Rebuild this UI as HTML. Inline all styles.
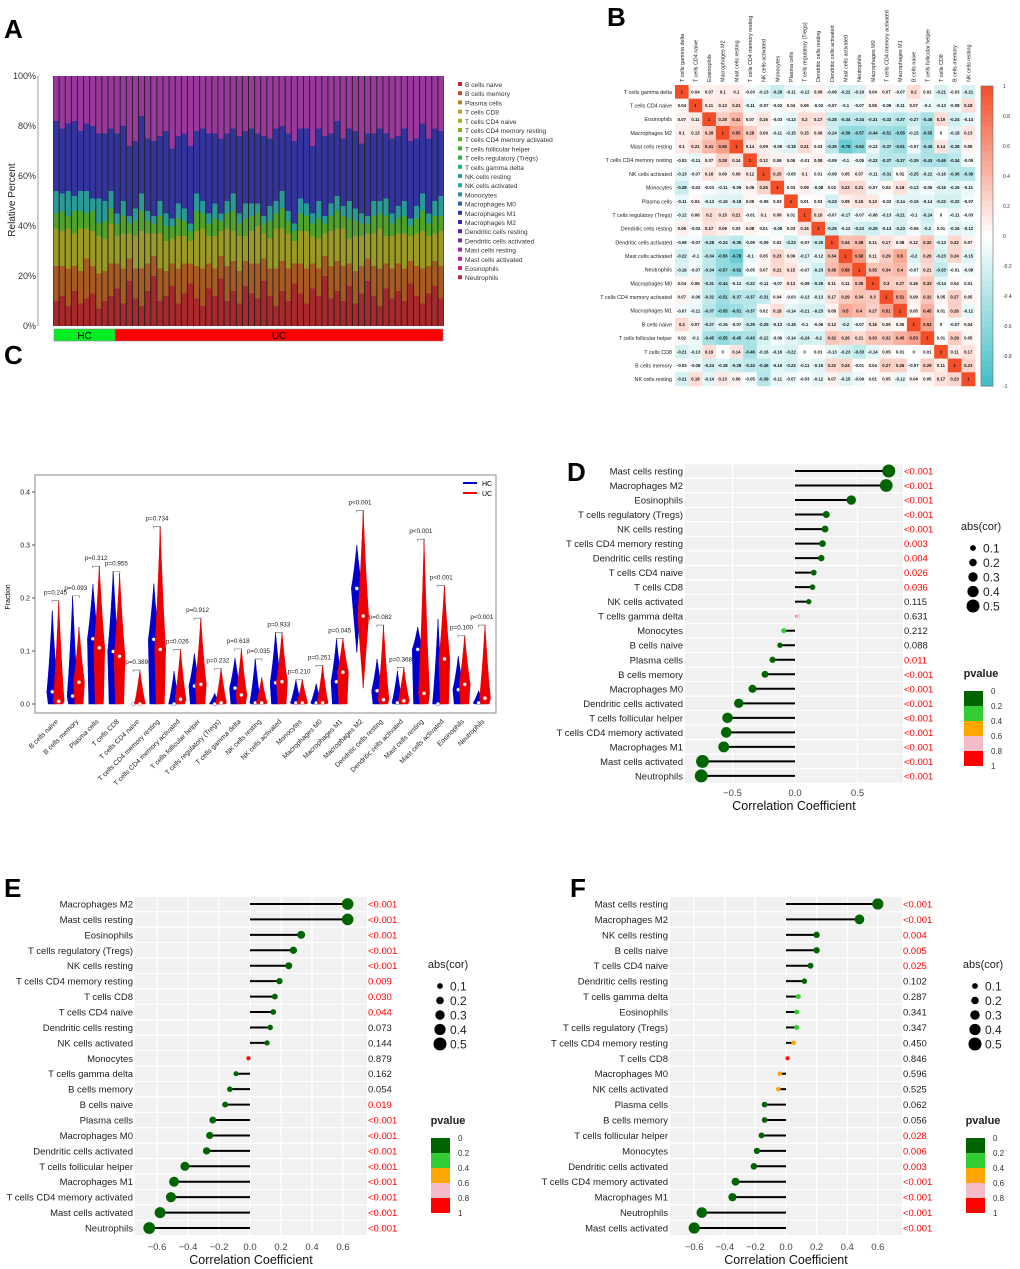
<!DOCTYPE html>
<html><head><meta charset="utf-8"><style>
html,body{margin:0;padding:0;background:#fff;}
svg{display:block;font-family:"Liberation Sans",Arial,sans-serif;}
</style></head><body>
<svg id="fig" width="1020" height="1269" viewBox="0 0 1020 1269" xmlns="http://www.w3.org/2000/svg">
<text x="4" y="38" font-size="26" font-weight="bold">A</text>
<text x="607" y="26" font-size="26" font-weight="bold">B</text>
<text x="4" y="364" font-size="26" font-weight="bold">C</text>
<text x="567" y="481" font-size="26" font-weight="bold">D</text>
<text x="4" y="897" font-size="26" font-weight="bold">E</text>
<text x="570" y="897" font-size="26" font-weight="bold">F</text>
<g id="pA"></g>
<g id="pB"></g>
<g id="pC"></g>
<g id="pD"></g>
<g id="pE"></g>
<g id="pF"></g>
</svg>
<script>
// ---------- Panel A data ----------
const aTypes=["B cells naive","B cells memory","Plasma cells","T cells CD8","T cells CD4 naive","T cells CD4 memory resting","T cells CD4 memory activated","T cells follicular helper","T cells regulatory (Tregs)","T cells gamma delta","NK cells resting","NK cells activated","Monocytes","Macrophages M0","Macrophages M1","Macrophages M2","Dendritic cells resting","Dendritic cells activated","Mast cells resting","Mast cells activated","Eosinophils","Neutrophils"];
const aGroups=["HC","UC"];
const aHCcount=10;
const aRed=[10,12,8,14,9,11,13,7,10,12,15,9,18,11,8,14,20,10,12,16,9,13,17,11,8,15,12,19,10,14,9,16,13,11,18,12,8,14,10,17,13,9,15,12,20,11,14,10,16,9,13,18,12,8,15,11,14,10,17,12,9,13,16,11];
const aBrown=[14,12,15,10,13,16,11,14,12,13,10,14,9,12,15,11,8,13,10,9,14,12,8,13,15,10,11,9,14,12,13,10,12,14,9,11,15,12,13,8,12,14,10,11,8,13,12,14,9,13,11,9,12,15,10,12,11,13,9,12,14,11,10,13];
const aOlive=[15,14,16,13,17,12,14,15,13,16,11,14,10,13,15,12,9,14,12,10,13,11,9,14,16,11,13,10,15,12,14,10,13,15,10,12,16,13,14,9,13,15,11,12,9,14,13,15,10,14,12,10,13,16,11,13,12,14,10,13,15,12,11,14];
const aGreen=[6,8,5,9,7,6,8,5,7,6,5,7,4,6,8,5,4,7,6,5,7,6,4,8,6,5,7,4,6,8,5,7,6,5,4,7,6,8,5,4,7,6,5,8,4,6,7,5,8,6,5,4,7,6,8,5,6,7,4,6,8,5,7,6];
const aTeal=[9,7,10,6,8,9,5,10,8,7,4,6,3,5,7,4,3,6,5,3,6,5,3,7,5,4,6,3,5,7,4,6,5,4,3,6,5,7,4,3,6,5,4,7,3,5,6,4,7,5,4,3,6,5,7,4,5,6,3,5,7,4,6,8];
const aBlue=[28,26,27,30,24,27,29,26,27,25,32,30,28,27,31,29,30,26,33,28,27,30,31,25,29,32,28,30,27,26,31,29,30,28,32,27,29,26,31,33,28,30,27,29,32,28,30,27,29,31,28,33,27,29,26,30,28,29,31,27,28,30,29,26];
// ---------- Panel B data ----------
const bLabels=["T cells gamma delta","T cells CD4 naive","Eosinophils","Macrophages M2","Mast cells resting","T cells CD4 memory resting","NK cells activated","Monocytes","Plasma cells","T cells regulatory (Tregs)","Dendritic cells resting","Dendritic cells activated","Mast cells activated","Neutrophils","Macrophages M0","T cells CD4 memory activated","Macrophages M1","B cells naive","T cells follicular helper","T cells CD8","B cells memory","NK cells resting"];
const bMatrix=[
[1,0.04,0.07,0.1,0.1,-0.03,-0.13,-0.28,-0.11,-0.12,0.08,-0.08,-0.22,-0.19,0.04,0.07,-0.07,0.2,0.02,-0.21,-0.03,-0.21],
[0.04,1,0.11,0.13,0.21,-0.11,-0.07,-0.02,0.04,0.06,-0.02,-0.07,-0.1,-0.07,0.06,-0.06,-0.11,0.07,-0.1,-0.13,-0.08,0.18],
[0.07,0.11,1,0.28,0.41,0.07,0.16,-0.03,-0.13,0.2,0.17,-0.28,-0.34,-0.34,-0.31,-0.32,-0.37,-0.27,-0.45,0.19,-0.24,-0.14],
[0.1,0.13,0.28,1,0.55,0.28,0.09,-0.11,-0.15,0.15,0.09,-0.24,-0.56,-0.57,-0.44,-0.51,-0.55,-0.15,-0.55,0,-0.18,0.13],
[0.1,0.21,0.41,0.55,1,0.14,0.09,-0.09,-0.18,0.21,0.03,-0.35,-0.78,-0.62,-0.12,-0.37,-0.51,-0.07,-0.45,0.14,-0.28,0.06],
[-0.03,-0.11,0.07,0.28,0.14,1,0.12,0.06,0.05,-0.01,0.08,-0.09,-0.1,-0.05,-0.22,-0.37,-0.37,-0.29,-0.43,-0.46,-0.34,-0.05],
[-0.13,-0.07,0.16,0.09,0.09,0.12,1,0.25,-0.05,0.1,0.01,-0.09,0.05,0.07,-0.11,-0.31,0.02,-0.25,-0.22,-0.16,-0.36,-0.39],
[-0.28,-0.02,-0.03,-0.11,-0.09,0.06,0.25,1,0.03,0.09,-0.08,0.02,0.23,0.21,-0.07,0.04,0.18,-0.13,-0.06,-0.16,-0.16,-0.11],
[-0.11,0.04,-0.13,-0.15,-0.18,0.05,-0.05,0.03,1,0.01,0.03,-0.23,0.09,0.15,0.13,-0.03,-0.14,-0.15,-0.14,-0.22,-0.22,-0.07],
[-0.12,0.06,0.2,0.15,0.21,-0.01,0.1,0.09,0.01,1,0.16,-0.07,-0.17,-0.07,-0.08,-0.13,-0.21,-0.1,-0.24,0,-0.11,-0.03],
[0.08,-0.02,0.17,0.09,0.03,0.08,0.01,-0.08,0.03,0.16,1,-0.25,-0.12,-0.23,-0.25,-0.13,-0.23,-0.06,-0.2,0.01,-0.15,-0.12],
[-0.08,-0.07,-0.28,-0.24,-0.35,-0.09,-0.09,0.02,-0.23,-0.07,-0.25,1,0.34,0.38,0.11,0.17,0.08,0.12,0.32,-0.13,0.22,0.07],
[-0.22,-0.1,-0.34,-0.56,-0.78,-0.1,0.05,0.23,0.09,-0.17,-0.12,0.34,1,0.58,0.11,0.29,0.5,-0.2,0.26,-0.23,0.24,-0.15],
[-0.19,-0.07,-0.34,-0.57,-0.62,-0.05,0.07,0.21,0.15,-0.07,-0.23,0.38,0.58,1,0.35,0.34,0.4,-0.07,0.21,-0.33,-0.01,-0.09],
[0.04,0.06,-0.31,-0.44,-0.12,-0.22,-0.11,-0.07,0.13,-0.08,-0.25,0.11,0.11,0.35,1,0.3,0.27,0.16,0.33,-0.14,0.04,0.01],
[0.07,-0.06,-0.32,-0.51,-0.37,-0.37,-0.31,0.04,-0.03,-0.13,-0.13,0.17,0.29,0.34,0.3,1,0.51,0.09,0.32,0.05,0.27,0.05],
[-0.07,-0.11,-0.37,-0.55,-0.51,-0.37,0.02,0.18,-0.14,-0.21,-0.23,0.08,0.5,0.4,0.27,0.51,1,0.05,0.45,0.01,0.26,-0.12],
[0.2,0.07,-0.27,-0.15,-0.07,-0.29,-0.25,-0.13,-0.15,-0.1,-0.06,0.12,-0.2,-0.07,0.16,0.09,0.05,1,0.53,0,-0.07,0.04],
[0.02,-0.1,-0.45,-0.55,-0.45,-0.43,-0.22,-0.06,-0.14,-0.24,-0.2,0.32,0.26,0.21,0.33,0.32,0.45,0.53,1,0.01,0.29,0.05],
[-0.21,-0.13,0.19,0,0.14,-0.46,-0.16,-0.16,-0.22,0,0.01,-0.13,-0.23,-0.33,-0.14,0.05,0.01,0,0.01,1,0.11,0.17],
[-0.03,-0.08,-0.24,-0.18,-0.28,-0.34,-0.36,-0.16,-0.22,-0.11,-0.15,0.22,0.24,-0.01,0.04,0.27,0.26,-0.07,0.29,0.11,1,0.23],
[-0.21,0.18,-0.14,0.13,0.06,-0.05,-0.39,-0.11,-0.07,-0.03,-0.12,0.07,-0.15,-0.09,0.01,0.05,-0.12,0.04,0.05,0.17,0.23,1]];
const bTicks=[1,0.8,0.6,0.4,0.2,0,-0.2,-0.4,-0.6,-0.8,-1];
// ---------- Panel C data ----------
const cCats=["B cells naive","B cells memory","Plasma cells","T cells CD8","T cells CD4 naive","T cells CD4 memory resting","T cells CD4 memory activated","T cells follicular helper","T cells regulatory (Tregs)","T cells gamma delta","NK cells resting","NK cells activated","Monocytes","Macrophages M0","Macrophages M1","Macrophages M2","Dendritic cells resting","Dendritic cells activated","Mast cells resting","Mast cells activated","Eosinophils","Neutrophils"];
const cHCmax=[0.176,0.203,0.226,0.25,0.0,0.227,0.062,0.095,0.02,0.087,0.085,0.135,0.045,0.038,0.122,0.30,0.085,0.062,0.145,0.160,0.090,0.025];
const cHCmin=[0,0,0,0,0,0,0,0,0,0,0,0,0,0,0,0.097,0,0,0,0,0,0];
const cHCmed=[0.023,0.015,0.123,0.099,0.0,0.122,0.0,0.034,0.0,0.030,0.002,0.040,0.002,0.002,0.042,0.218,0.025,0.002,0.103,0.0,0.027,0.002];
const cUCmax=[0.195,0.145,0.26,0.247,0.064,0.335,0.103,0.162,0.067,0.104,0.05,0.135,0.046,0.073,0.124,0.365,0.149,0.069,0.311,0.224,0.129,0.149];
const cUCmin=[0,0,0,0,0,0,0,0,0,0,0,0,0,0,0,0.03,0,0,0,0,0,0];
const cUCmed=[0.005,0.041,0.106,0.09,0.0,0.103,0.009,0.037,0.002,0.017,0.002,0.042,0.002,0.002,0.060,0.166,0.008,0.006,0.020,0.085,0.037,0.011];
const cBracket=[0.195,0.204,0.26,0.25,0.064,0.335,0.103,0.162,0.067,0.104,0.085,0.135,0.046,0.073,0.124,0.365,0.149,0.069,0.311,0.224,0.129,0.149];
const cP=["p=0.245","p=0.093","p=0.312","p=0.955","p=0.389","p=0.734","p=0.026","p=0.912","p=0.232","p=0.618","p=0.035","p=0.933","p=0.210","p=0.251","p=0.045","p<0.001","p=0.082","p=0.368","p<0.001","p<0.001","p=0.100","p<0.001"];
const cYTicks=[0,0.1,0.2,0.3,0.4];
// ---------- Panel D data ----------
const dLabels=["Mast cells resting","Macrophages M2","Eosinophils","T cells regulatory (Tregs)","NK cells resting","T cells CD4 memory resting","Dendritic cells resting","T cells CD4 naive","T cells CD8","NK cells activated","T cells gamma delta","Monocytes","B cells naive","Plasma cells","B cells memory","Macrophages M0","Dendritic cells activated","T cells follicular helper","T cells CD4 memory activated","Macrophages M1","Mast cells activated","Neutrophils"];
const dCor=[0.75,0.73,0.45,0.25,0.24,0.22,0.21,0.15,0.14,0.11,0.02,-0.09,-0.12,-0.18,-0.24,-0.34,-0.45,-0.54,-0.55,-0.57,-0.74,-0.75];
const dP=["<0.001","<0.001","<0.001","<0.001","<0.001","0.003","0.004","0.026","0.036","0.115","0.631","0.212","0.088","0.011","<0.001","<0.001","<0.001","<0.001","<0.001","<0.001","<0.001","<0.001"];
const dTicks=[-0.5,0,0.5];
// ---------- Panel E data ----------
const eLabels=["Macrophages M2","Mast cells resting","Eosinophils","T cells regulatory (Tregs)","NK cells resting","T cells CD4 memory resting","T cells CD8","T cells CD4 naive","Dendritic cells resting","NK cells activated","Monocytes","T cells gamma delta","B cells memory","B cells naive","Plasma cells","Macrophages M0","Dendritic cells activated","T cells follicular helper","Macrophages M1","T cells CD4 memory activated","Mast cells activated","Neutrophils"];
const eCor=[0.63,0.63,0.33,0.28,0.25,0.19,0.16,0.15,0.13,0.11,-0.01,-0.09,-0.13,-0.16,-0.24,-0.26,-0.28,-0.42,-0.49,-0.51,-0.58,-0.65];
const eP=["<0.001","<0.001","<0.001","<0.001","<0.001","0.009","0.030","0.044","0.073","0.144","0.879","0.162","0.054","0.019","<0.001","<0.001","<0.001","<0.001","<0.001","<0.001","<0.001","<0.001"];
const eTicks=[-0.6,-0.4,-0.2,0,0.2,0.4,0.6];
// ---------- Panel F data ----------
const fLabels=["Mast cells resting","Macrophages M2","NK cells resting","B cells naive","T cells CD4 naive","Dendritic cells resting","T cells gamma delta","Eosinophils","T cells regulatory (Tregs)","T cells CD4 memory resting","T cells CD8","Macrophages M0","NK cells activated","Plasma cells","B cells memory","T cells follicular helper","Monocytes","Dendritic cells activated","T cells CD4 memory activated","Macrophages M1","Neutrophils","Mast cells activated"];
const fCor=[0.60,0.48,0.20,0.20,0.16,0.12,0.08,0.07,0.07,0.05,0.01,-0.04,-0.05,-0.14,-0.14,-0.16,-0.19,-0.21,-0.33,-0.35,-0.55,-0.60];
const fP=["<0.001","<0.001","0.004","0.005","0.025","0.102","0.287","0.341","0.347","0.450","0.846","0.596","0.525","0.062","0.056","0.028","0.006","0.003","<0.001","<0.001","<0.001","<0.001"];
const fTicks=[-0.6,-0.4,-0.2,0,0.2,0.4,0.6];

const NS="http://www.w3.org/2000/svg";
function mk(tag,attrs,parent,txt){const e=document.createElementNS(NS,tag);for(const k in attrs)e.setAttribute(k,attrs[k]);if(txt!==undefined)e.textContent=txt;parent.appendChild(e);return e;}
let el;

// ================= Panel A =================
(function(){
const g=document.getElementById('pA');
const x0=53,x1=444,y0=76,y1=326,H=y1-y0;
const yA=v=>y1-v/100*H;
el=mk('rect',{x:x0,y:y0,width:x1-x0,height:H,fill:'#222'},g);


const n=aRed.length,bw=(x1-x0)/n;
const layerCols=['#a8282c','#a85a22','#9a9a24','#4fa32a','#2a9a98','#3434a0','#9a389e'];
const layers=[aRed,aBrown,aOlive,aGreen,aTeal,aBlue];
for(let i=0;i<n;i++){
  let cum=0;
  const tot=layers.reduce((s,L)=>s+L[i],0);
  for(let j=0;j<=layers.length;j++){
    const v=j<layers.length?layers[j][i]:Math.max(0,100-tot);
    el=mk('rect',{x:(x0+i*bw+0.5).toFixed(2),y:yA(cum+v).toFixed(2),width:(bw-1).toFixed(2),height:(v/100*H).toFixed(2),fill:layerCols[j]},g);
    
    
    cum+=v;
  }
}
el=mk('line',{x1:38,y1:y0,x2:38,y2:y1,stroke:'#999','stroke-width':1},g);


[0,20,40,60,80,100].forEach(t=>{
  el=mk('text',{x:36,y:yA(t)+3,'font-size':9,'text-anchor':'end',fill:'#333'},g,t+'%');
  
  
});
el=mk('text',{x:0,y:0,'font-size':10,'text-anchor':'middle',fill:'#222',transform:'translate(15,200) rotate(-90)'},g,'Relative Percent');


const hcx=x0+1+aHCcount*bw;
el=mk('rect',{x:54,y:329,width:hcx-54,height:12,fill:'#00ee22',stroke:'#888','stroke-width':0.6},g);


el=mk('rect',{x:hcx,y:329,width:443-hcx,height:12,fill:'#ff0000',stroke:'#888','stroke-width':0.6},g);


el=mk('text',{x:(54+hcx)/2,y:339,'font-size':10,'text-anchor':'middle'},g,aGroups[0]);


el=mk('text',{x:(hcx+443)/2,y:339,'font-size':10,'text-anchor':'middle'},g,aGroups[1]);


const legCols=['#c0282c','#c04a28','#c07a2a','#c0a02a','#a8b02a','#88b02a','#60b02a','#38b02a','#28b040','#28b070','#28a8a0','#28a0b8','#2888b0','#2860b0','#2838b0','#3828a8','#5828b0','#7828b0','#a028b0','#c028a0','#c02878','#c02848'];
aTypes.forEach((t,i)=>{
  const y=85+i*9.2;
  el=mk('rect',{x:458,y:y-3,width:4,height:4,fill:legCols[i]},g);
  
  
  el=mk('text',{x:465,y:y+2,'font-size':6.6,fill:'#333'},g,t);
  
  
});
})();

// ================= Panel B =================
(function(){
const g=document.getElementById('pB');
const x0=675,y0=85,cw=13.64,ch=13.68,n=bLabels.length;
function col(v){
  if(v>=0){const a=[255,255,255],b=[244,78,40];return 'rgb('+a.map((c,i)=>Math.round(c+(b[i]-c)*v)).join(',')+')';}
  const a=[255,255,255],b=[64,190,198],t=-v;return 'rgb('+a.map((c,i)=>Math.round(c+(b[i]-c)*t)).join(',')+')';
}
for(let r=0;r<n;r++){for(let c=0;c<n;c++){
  const v=bMatrix[r][c];
  el=mk('rect',{x:(x0+c*cw).toFixed(2),y:(y0+r*ch).toFixed(2),width:cw+0.3,height:ch+0.3,fill:col(v)},g);
  
  
  el=mk('text',{x:(x0+c*cw+cw/2).toFixed(2),y:(y0+r*ch+ch/2+1.6).toFixed(2),'font-size':4.3,'font-weight':'bold','text-anchor':'middle',fill:'#111'},g,String(v));
  
  
}}
bLabels.forEach((l,i)=>{
  el=mk('text',{x:672,y:y0+i*ch+ch/2+2,'font-size':5.4,'text-anchor':'end',fill:'#222'},g,l);
  
  
  const cx=x0+i*cw+cw/2+2;
  el=mk('text',{x:0,y:0,'font-size':5.4,fill:'#222',transform:'translate('+cx.toFixed(2)+',82) rotate(-90)'},g,l);
  
  
});
const gy0=86,gy1=386;
for(let i=0;i<60;i++){
  const v=1-i/30;
  el=mk('rect',{x:981,y:gy0+i*(gy1-gy0)/60,width:12,height:(gy1-gy0)/60+0.5,fill:col(Math.max(-1,v-1/60))},g);
  
  
}
el=mk('rect',{x:981,y:gy0,width:12,height:gy1-gy0,fill:'none',stroke:'#666','stroke-width':0.6},g);


bTicks.forEach(t=>{
  const y=gy0+(1-t)/2*(gy1-gy0);
  el=mk('text',{x:1003,y:y+2,'font-size':5,fill:'#333'},g,String(t));
  
  
});
})();

// ================= Panel C =================
(function(){
const g=document.getElementById('pC');
const bx0=35,bx1=496,by0=475,by1=713;
const yC=v=>704-v*530;
const gx=i=>52+3.5+i*20.3;
el=mk('rect',{x:bx0,y:by0,width:bx1-bx0,height:by1-by0,fill:'#fff',stroke:'#888','stroke-width':1},g);


cYTicks.forEach(t=>{
  el=mk('line',{x1:bx0-3,y1:yC(t),x2:bx0,y2:yC(t),stroke:'#555'},g);
  
  
  el=mk('text',{x:bx0-5,y:yC(t)+2.5,'font-size':7,'text-anchor':'end',fill:'#222'},g,t.toFixed(1));
  
  
});
el=mk('text',{x:0,y:0,'font-size':7,'text-anchor':'middle',transform:'translate(10,597) rotate(-90)'},g,'Fraction');


function violin(x,mn,med,mx,color,name){
  const w=5.5,w0=mn>0?0:w*0.75;
  el=mk('line',{x1:x,y1:yC(mn),x2:x,y2:yC(mx),stroke:'#000','stroke-width':0.8},g);
  
  
  if(mx>0.001){
    const d='M'+(x-w0)+','+yC(mn)+' L'+(x-w)+','+yC(med)+' Q'+(x-w*0.5)+','+yC(med+(mx-med)*0.35)+' '+x+','+yC(mx)+' Q'+(x+w*0.5)+','+yC(med+(mx-med)*0.35)+' '+(x+w)+','+yC(med)+' L'+(x+w0)+','+yC(mn)+' Z';
    el=mk('path',{d:d,fill:color,stroke:color,'stroke-width':0.5},g);
    
    
  }
  el=mk('circle',{cx:x,cy:yC(med),r:1.9,fill:'#fff',stroke:color,'stroke-width':0.3},g);
  
  
}
cCats.forEach((c,i)=>{
  const x=gx(i);
  violin(x-3.2,cHCmin[i],cHCmed[i],cHCmax[i],'#0000cc','violin-hc');
  violin(x+3.2,cUCmin[i],cUCmed[i],cUCmax[i],'#ee0000','violin-uc');
  const by=yC(cBracket[i]);
  el=mk('path',{d:'M'+(x-3.5)+','+(by+2)+' V'+by+' H'+(x+3.5)+' V'+(by+2),fill:'none',stroke:'#666','stroke-width':0.6},g);
  
  
  el=mk('text',{x:x,y:by-6,'font-size':6.3,'text-anchor':'middle',fill:'#222'},g,cP[i]);
  
  
  el=mk('text',{x:0,y:0,'font-size':6.8,'text-anchor':'end',fill:'#222',transform:'translate('+(x+3)+',722) rotate(-45)'},g,c);
  
  
});
el=mk('line',{x1:463,y1:483,x2:477,y2:483,stroke:'#0000cc','stroke-width':2},g);


el=mk('text',{x:482,y:486,'font-size':7},g,'HC');


el=mk('line',{x1:463,y1:493,x2:477,y2:493,stroke:'#ee0000','stroke-width':2},g);


el=mk('text',{x:482,y:496,'font-size':7},g,'UC');


})();

// ================= Lollipops =================
function pnum(s){return s.charAt(0)==='<'?0.0005:parseFloat(s);}
function pcol(p){return p<0.2?'#006400':p<0.4?'#32cd32':p<0.6?'#ffa500':p<0.8?'#f4bcc8':'#ff0000';}
function lollipop(gid,labels,cor,pv,ticks,cfg){
  const g=document.getElementById(gid);
  const n=labels.length;
  const xS=v=>cfg.zero+v*cfg.k;
  const yS=i=>cfg.yTop+i*cfg.step;
  el=mk('rect',{x:cfg.px0,y:yS(0)-cfg.step/2,width:cfg.px1-cfg.px0,height:n*cfg.step,fill:'#f1f1f1'},g);
  
  
  for(let i=0;i<=n;i++){
    el=mk('line',{x1:cfg.px0,y1:yS(i)-cfg.step/2,x2:cfg.px1,y2:yS(i)-cfg.step/2,stroke:'#fff','stroke-width':1.2},g);
    
    
  }
  ticks.forEach(t=>{
    el=mk('line',{x1:xS(t),y1:yS(0)-cfg.step/2,x2:xS(t),y2:yS(n-1)+cfg.step/2,stroke:'#fff','stroke-width':1.2},g);
    
    
    el=mk('text',{x:xS(t),y:cfg.tickY,'font-size':cfg.fs,'text-anchor':'middle',fill:'#444'},g,t===0?'0.0':(t<0?'\u2212':'')+Math.abs(t).toFixed(1));
    
    
  });
  el=mk('text',{x:(cfg.px0+cfg.px1)/2,y:cfg.titleY,'font-size':cfg.fs+3,'text-anchor':'middle',fill:'#111'},g,'Correlation Coefficient');
  
  
  labels.forEach((l,i)=>{
    const y=yS(i),p=pnum(pv[i]);
    el=mk('text',{x:cfg.px0-2,y:y+3.5,'font-size':cfg.fs,'text-anchor':'end',fill:'#222'},g,l);
    
    
    el=mk('line',{x1:xS(0),y1:y,x2:xS(cor[i]),y2:y,stroke:'#000','stroke-width':2},g);
    
    
    el=mk('circle',{cx:xS(cor[i]),cy:y,r:2+6*Math.abs(cor[i]),fill:pcol(p)},g);
    
    
    el=mk('text',{x:cfg.px1+1,y:y+3.5,'font-size':cfg.fs,fill:p<0.05?'#ff0000':'#222'},g,pv[i]);
    
    
  });
  el=mk('text',{x:cfg.lx+8,y:cfg.ly,'font-size':11,'text-anchor':'middle',fill:'#222'},g,'abs(cor)');
  
  
  [0.1,0.2,0.3,0.4,0.5].forEach((s,i)=>{
    const y=cfg.ly+18+i*14.5;
    el=mk('circle',{cx:cfg.lx,cy:y,r:2+9*s,fill:'#000'},g);
    
    
    el=mk('text',{x:cfg.lx+10,y:y+4.5,'font-size':12,fill:'#222'},g,String(s));
    
    
  });
  el=mk('text',{x:cfg.lx+8,y:cfg.py,'font-size':11,'font-weight':'bold','text-anchor':'middle',fill:'#222'},g,'pvalue');
  
  
  ['#006400','#32cd32','#ffa500','#f4bcc8','#ff0000'].forEach((c,i)=>{
    el=mk('rect',{x:cfg.lx-9,y:cfg.py+14+i*15,width:19,height:15,fill:c},g);
    
    
  });
  ['0','0.2','0.4','0.6','0.8','1'].forEach((t,i)=>{
    el=mk('text',{x:cfg.lx+18,y:cfg.py+17+i*15,'font-size':8,fill:'#333'},g,t);
    
    
  });
}
lollipop('pD',dLabels,dCor,dP,dTicks,{zero:795,k:125,yTop:471,step:14.52,px0:685,px1:903,fs:9.5,tickY:796,titleY:810,lx:973,ly:530,py:677});
lollipop('pE',eLabels,eCor,eP,eTicks,{zero:250,k:155,yTop:904,step:15.43,px0:135,px1:367,fs:9.5,tickY:1250,titleY:1264,lx:440,ly:968,py:1124});
lollipop('pF',fLabels,fCor,fP,fTicks,{zero:786,k:153,yTop:904,step:15.43,px0:670,px1:902,fs:9.5,tickY:1250,titleY:1264,lx:975,ly:968,py:1124});
</script>
</body></html>
